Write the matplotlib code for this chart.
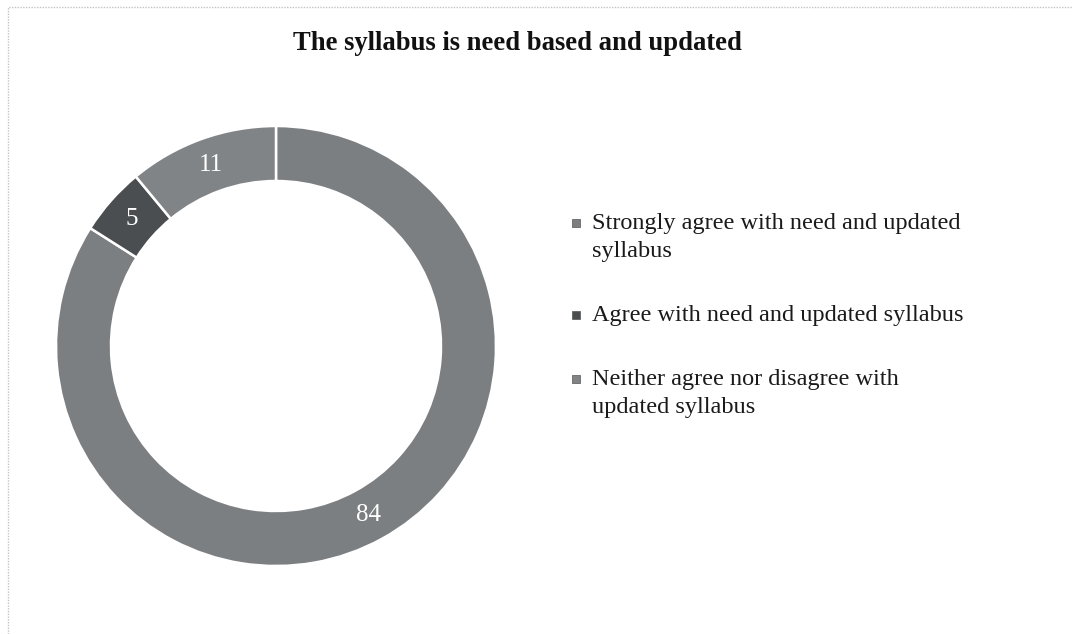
import matplotlib
matplotlib.use("Agg")
from matplotlib import pyplot as plt
from matplotlib.lines import Line2D
import numpy as np

plt.rcParams['font.family'] = ['Liberation Serif', 'DejaVu Serif']

title = "The syllabus is need based and updated"
labels = ["Strongly agree with need and updated\nsyllabus",
          "Agree with need and updated syllabus",
          "Neither agree nor disagree with\nupdated syllabus"]
values = [84, 5, 11]
colors = ["#7c7f82", "#4b4e50", "#818487"]

W, H = 1072, 634
fig = plt.figure(figsize=(W / 100, H / 100), dpi=100)

# donut, centre ~ (276, 346) px, outer radius ~220 px
cx, cy, r = 276, 346, 220
ax = fig.add_axes([(cx - r) / W, (H - cy - r) / H, 2 * r / W, 2 * r / H])
wedges, _ = ax.pie(values, colors=colors, startangle=90, counterclock=False,
                   radius=1, wedgeprops=dict(width=0.25, edgecolor="white", linewidth=1.8))
ax.set_xlim(-1, 1)
ax.set_ylim(-1, 1)
ax.set_aspect("equal")
ax.axis("off")

# value labels in the middle of the ring
for w, v in zip(wedges, values):
	mid = np.deg2rad((w.theta1 + w.theta2) / 2)
	ax.text(0.875 * np.cos(mid), 0.875 * np.sin(mid), str(v), color="white",
	        fontsize=18, ha="center", va="center")

fig.text(517 / W, 1 - 43 / H, title, fontsize=19.2, fontweight="bold",
         ha="center", va="center", color="#111111")

# legend on the right
y = 222
for lab, col in zip(labels, colors):
	fig.text(592 / W, 1 - (y - 9) / H, lab, fontsize=17.5, ha="left", va="top",
	         color="#1a1a1a", linespacing=1.45)
	fig.add_artist(Line2D([576 / W], [1 - (y + 1) / H], marker="s", markersize=5.5,
	                      color=col, markeredgecolor="#555555", markeredgewidth=0.5,
	                      transform=fig.transFigure))
	y += lab.count("\n") * 28 + 28 + 36

# faint border of the scanned chart area
fig.add_artist(Line2D([8 / W, 8 / W, 1], [0, 1 - 7 / H, 1 - 7 / H], color="#c4c4c4",
                      linewidth=1, linestyle=(0, (1, 1)), transform=fig.transFigure))

fig.savefig("out.png", dpi=100)
